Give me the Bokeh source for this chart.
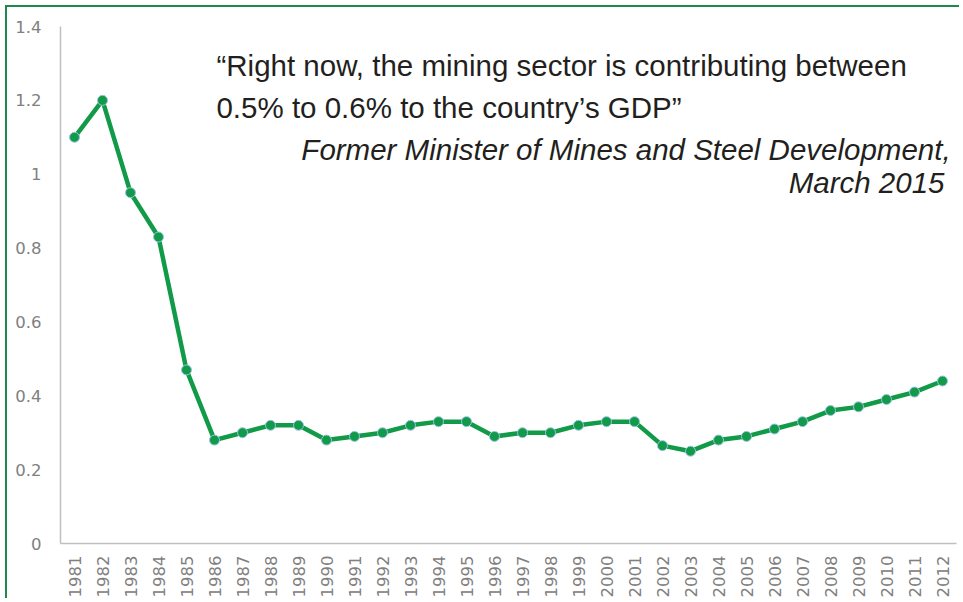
import math
from bokeh.plotting import figure
from bokeh.models import FixedTicker, Label, ColumnDataSource, Range1d
from bokeh.embed import file_html
from bokeh.resources import INLINE

years = list(range(1981, 2013))
values = [1.10, 1.20, 0.95, 0.83, 0.47, 0.28, 0.30, 0.32, 0.32, 0.28,
          0.29, 0.30, 0.32, 0.33, 0.33, 0.29, 0.30, 0.30, 0.32, 0.33,
          0.33, 0.265, 0.25, 0.28, 0.29, 0.31, 0.33, 0.36, 0.37, 0.39,
          0.41, 0.44]
y_ticks = [0, 0.2, 0.4, 0.6, 0.8, 1.0, 1.2, 1.4]
y_tick_labels = ["0", "0.2", "0.4", "0.6", "0.8", "1", "1.2", "1.4"]
quote_lines = ["\u201cRight now, the mining sector is contributing between",
               "0.5% to 0.6% to the country\u2019s GDP\u201d"]
source_lines = ["Former Minister of Mines and Steel Development,",
                "March 2015"]

GREEN = "#119a48"
BORDER = "#1b8a4c"
GRAY = "#808080"

p = figure(width=954, height=593, output_backend="svg", toolbar_location=None,
           x_range=Range1d(1980.5, 2012.5), y_range=Range1d(0, 1.4),
           min_border_left=53, min_border_right=5, min_border_top=19,
           min_border_bottom=56)
p.styles = {"border-left": f"2px solid {BORDER}", "border-top": f"2px solid {BORDER}",
            "margin-left": "5px", "margin-top": "5px"}
p.outline_line_color = None
p.grid.grid_line_color = None
p.background_fill_color = "white"
p.border_fill_color = "white"

src = ColumnDataSource(dict(x=years, y=values))
p.line("x", "y", source=src, line_color=GREEN, line_width=4.5)
p.scatter("x", "y", source=src, size=10, fill_color=GREEN,
          line_color="#9dc3e6", line_width=1)

p.yaxis.ticker = FixedTicker(ticks=y_ticks)
p.yaxis.major_label_overrides = {t: l for t, l in zip(y_ticks, y_tick_labels)}
p.xaxis.ticker = FixedTicker(ticks=years)
p.xaxis.major_label_overrides = {y: str(y) for y in years}
p.xaxis.major_label_orientation = math.pi / 2
for ax in (p.xaxis, p.yaxis):
    ax.axis_line_color = "#bfbfbf"
    ax.axis_line_width = 1.5
    ax.major_tick_line_color = None
    ax.minor_tick_line_color = None
    ax.major_tick_out = 0
    ax.major_tick_in = 0
    ax.minor_tick_out = 0
    ax.minor_tick_in = 0
    ax.major_label_text_color = GRAY
    ax.major_label_text_font = "DejaVu Sans"
    ax.major_label_text_font_size = "16.5px"
p.yaxis.major_label_standoff = 19
p.xaxis.major_label_standoff = 12

TXT = "#231f20"
FS = "29.5px"
p.add_layout(Label(x=1986.07, y=1.294, text=quote_lines[0], text_font="Liberation Sans",
                   text_font_size=FS, text_color=TXT, text_baseline="alphabetic"))
p.add_layout(Label(x=1986.07, y=1.182, text=quote_lines[1], text_font="Liberation Sans",
                   text_font_size=FS, text_color=TXT, text_baseline="alphabetic"))
p.add_layout(Label(x=2012.29, y=1.066, text=source_lines[0], text_font="Liberation Sans",
                   text_font_size=FS, text_font_style="italic", text_color=TXT,
                   text_align="right", text_baseline="alphabetic"))
p.add_layout(Label(x=2012.07, y=0.977, text=source_lines[1], text_font="Liberation Sans",
                   text_font_size=FS, text_font_style="italic", text_color=TXT,
                   text_align="right", text_baseline="alphabetic"))

open("out.html", "w").write(file_html(p, INLINE))
